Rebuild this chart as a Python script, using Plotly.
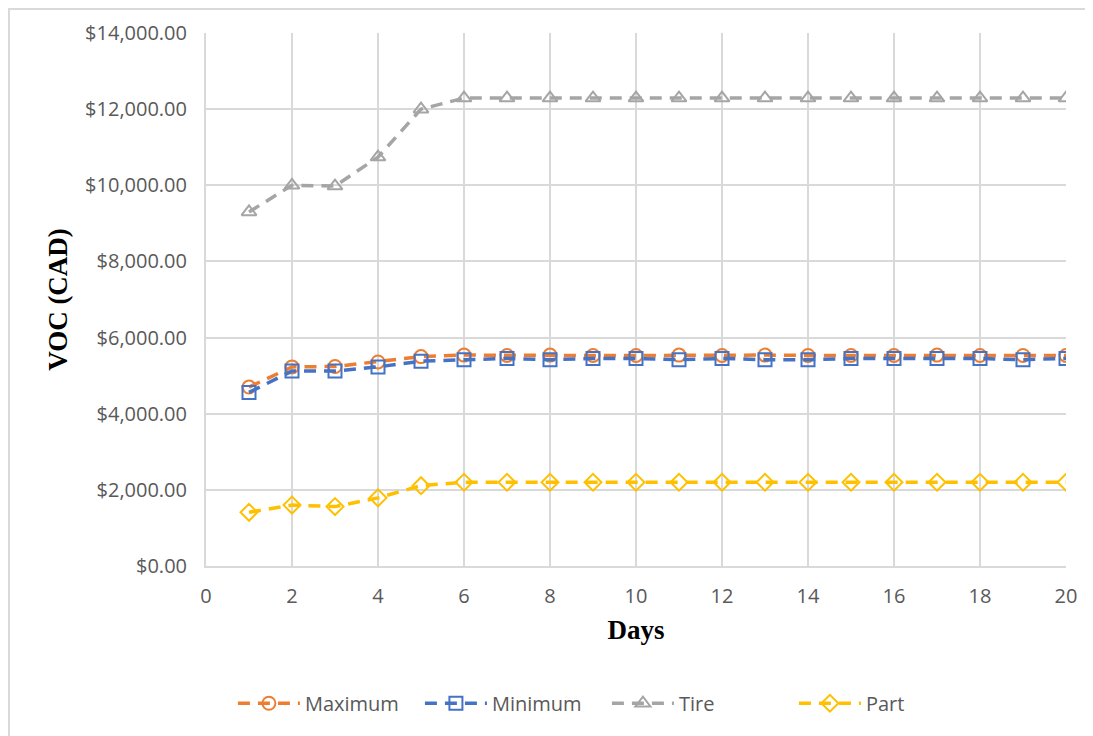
import plotly.graph_objects as go

days = list(range(1, 21))
maximum = [4700, 5230, 5240, 5360, 5500, 5540, 5530, 5540, 5530, 5530, 5540, 5530, 5540, 5530, 5530, 5530, 5540, 5530, 5530, 5530]
minimum = [4560, 5120, 5120, 5230, 5380, 5420, 5450, 5420, 5450, 5450, 5420, 5450, 5420, 5420, 5450, 5450, 5450, 5450, 5420, 5450]
tire = [9300, 10000, 9980, 10740, 12000, 12290, 12290, 12290, 12290, 12290, 12290, 12290, 12290, 12290, 12290, 12290, 12290, 12290, 12290, 12290]
part = [1410, 1600, 1560, 1790, 2110, 2200, 2200, 2200, 2200, 2200, 2200, 2200, 2200, 2200, 2200, 2200, 2200, 2200, 2200, 2200]

series = [
    ("Maximum", maximum, "#ED7D31", "circle-open"),
    ("Minimum", minimum, "#4472C4", "square-open"),
    ("Tire", tire, "#A5A5A5", "triangle-up-open"),
    ("Part", part, "#FFC000", "diamond-open"),
]

fig = go.Figure()
for name, vals, color, sym in series:
    fig.add_trace(go.Scatter(
        x=days, y=vals, name=name, mode="lines+markers",
        line=dict(color=color, width=3.5, dash="12px,8px"),
        marker=dict(symbol=sym, size=13, color=color, line=dict(color=color, width=2)),
    ))

# page body has an 8px margin; coordinates below are in figure (svg) space
W, H = 1085, 728
L, R, T, B = 198, 1058, 25, 558
pw, ph = R - L, B - T

fig.update_layout(
    width=W, height=H,
    margin=dict(l=L, r=W - R, t=T, b=H - B),
    paper_bgcolor="white", plot_bgcolor="white",
    font=dict(family="Open Sans", color="#595959", size=20),
    showlegend=True,
    legend=dict(orientation="h", xref="container", yref="container", x=0.552, y=0.045,
                xanchor="center", yanchor="middle", font=dict(size=20, color="#595959"),
                itemwidth=62, tracegroupgap=0, entrywidth=110, entrywidthmode="pixels"),
    xaxis=dict(range=[0, 20], dtick=2, tick0=0, showgrid=True, gridcolor="#D9D9D9", gridwidth=2,
               showline=True, linecolor="#D9D9D9", linewidth=2, zeroline=False,
               ticks="", ticklabelstandoff=11,
               title=dict(text="<b>Days</b>", font=dict(family="Liberation Serif", size=27, color="black"), standoff=12)),
    yaxis=dict(range=[0, 14000], dtick=2000, showgrid=True, gridcolor="#D9D9D9", gridwidth=2,
               showline=True, linecolor="#D9D9D9", linewidth=2, zeroline=False,
               tickprefix="$", tickformat=",.2f", ticks="", ticklabelstandoff=13,
               title=dict(text="<b>VOC (CAD)</b>", font=dict(family="Liberation Serif", size=27, color="black"), standoff=10)),
)

fig.add_shape(type="rect", xref="paper", yref="paper",
              x0=(1 - L) / pw, x1=(1090 - L) / pw, y0=(B - 745) / ph, y1=(B - 1) / ph,
              line=dict(color="#D9D9D9", width=2), fillcolor="rgba(0,0,0,0)", layer="below")

fig.write_html("out.html")
